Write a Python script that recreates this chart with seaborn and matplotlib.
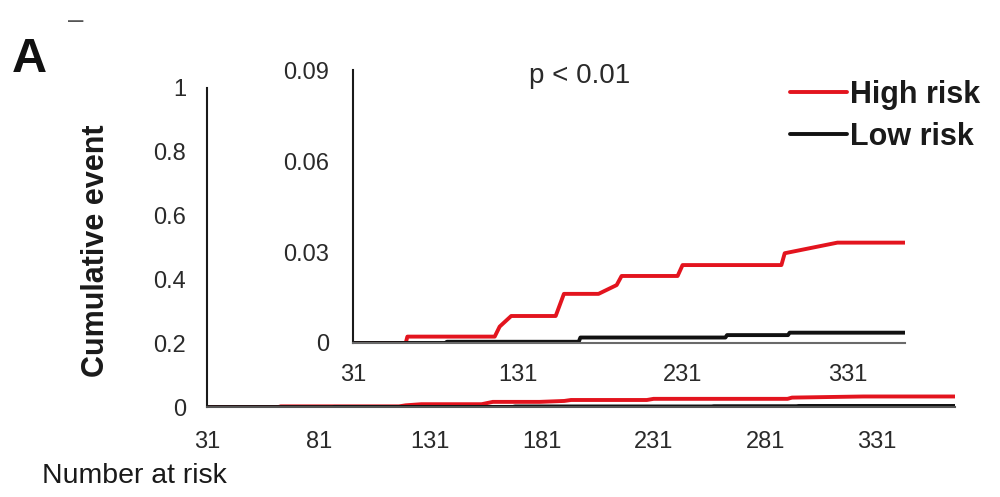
import numpy as np
import pandas as pd
import matplotlib
matplotlib.use("Agg")
import matplotlib.pyplot as plt
import seaborn as sns
from matplotlib.lines import Line2D

# ---- data ----
high_days = [31, 63, 64, 117, 120, 127, 154, 159, 180, 191, 194, 228, 231, 291, 293, 325, 366]
high_vals = [0, 0, 0.0021, 0.0021, 0.0054, 0.0089, 0.0089, 0.0162, 0.0162, 0.0191, 0.0221,
             0.0221, 0.0257, 0.0257, 0.0296, 0.0331, 0.0331]
low_days = [31, 87, 88, 168, 169, 257, 258, 295, 296, 366]
low_vals = [0, 0, 0.0004, 0.0004, 0.0018, 0.0018, 0.0026, 0.0026, 0.0034, 0.0034]
groups = ["High risk", "Low risk"]
group_colors = ["#e3141e", "#111111"]

main_xticks = [31, 81, 131, 181, 231, 281, 331]
main_yticks = [0, 0.2, 0.4, 0.6, 0.8, 1]
main_yticklabels = ["0", "0.2", "0.4", "0.6", "0.8", "1"]
inset_xticks = [31, 131, 231, 331]
inset_yticks = [0, 0.03, 0.06, 0.09]
inset_yticklabels = ["0", "0.03", "0.06", "0.09"]

df = pd.concat([
    pd.DataFrame({"day": high_days, "value": high_vals, "group": groups[0]}),
    pd.DataFrame({"day": low_days, "value": low_vals, "group": groups[1]}),
], ignore_index=True)
palette = dict(zip(groups, group_colors))

sns.set_theme(style="white")
plt.rcParams["font.family"] = ["Liberation Sans", "DejaVu Sans"]

fig = plt.figure(figsize=(10, 4.97), dpi=100)
tick_color = "#2a2a2a"

# ---- main axes ----
ax = fig.add_axes([0.207, 0.181, 0.748, 0.642])
sns.lineplot(data=df, x="day", y="value", hue="group", hue_order=groups, palette=palette,
             estimator=None, sort=False, lw=2.8, ax=ax, legend=False)
ax.set_xlim(31, 366)
ax.set_ylim(0, 1)
ax.set_xticks(main_xticks)
ax.set_xticklabels([str(t) for t in main_xticks])
ax.set_yticks(main_yticks)
ax.set_yticklabels(main_yticklabels)
ax.set_xlabel("")
ax.set_ylabel("")
for s in ["top", "right"]:
    ax.spines[s].set_visible(False)
ax.spines["left"].set_color("#1a1a1a")
ax.spines["left"].set_linewidth(1.5)
ax.spines["bottom"].set_color("#555555")
ax.spines["bottom"].set_linewidth(1.5)
ax.tick_params(axis="both", length=0, labelsize=17, colors=tick_color)
ax.tick_params(axis="y", pad=15)
ax.tick_params(axis="x", pad=17)
ax.patch.set_alpha(0)

# ---- inset axes ----
axi = fig.add_axes([0.353, 0.3099, 0.552, 0.549])
sns.lineplot(data=df, x="day", y="value", hue="group", hue_order=groups, palette=palette,
             estimator=None, sort=False, lw=2.8, ax=axi, legend=False)
axi.set_xlim(31, 366)
axi.set_ylim(0, 0.09)
axi.set_xticks(inset_xticks)
axi.set_xticklabels([str(t) for t in inset_xticks])
axi.set_yticks(inset_yticks)
axi.set_yticklabels(inset_yticklabels)
axi.set_xlabel("")
axi.set_ylabel("")
for s in ["top", "right"]:
    axi.spines[s].set_visible(False)
axi.spines["left"].set_color("#1a1a1a")
axi.spines["left"].set_linewidth(1.5)
axi.spines["bottom"].set_color("#6a6a6a")
axi.spines["bottom"].set_linewidth(1.5)
axi.tick_params(axis="both", length=0, labelsize=17, colors=tick_color)
axi.tick_params(axis="y", pad=17)
axi.tick_params(axis="x", pad=15)
axi.patch.set_alpha(0)

# ---- texts ----
fig.text(0.096, 0.495, "Cumulative event", rotation=90, ha="center", va="center",
         fontsize=22, fontweight="bold", color="#1a1a1a")
fig.text(0.042, 0.028, "Number at risk", ha="left", va="baseline",
         fontsize=20.5, color="#1a1a1a")
fig.text(0.012, 0.855, "A", ha="left", va="baseline", fontsize=35,
         fontweight="bold", color="#111111")
fig.text(0.076, 0.958, "\u2013", ha="center", va="center", fontsize=20, color="#555555")
fig.text(0.580, 0.8325, "p < 0.01", ha="center", va="baseline", fontsize=20, color="#2a2a2a")

handles = [Line2D([], [], color=c, lw=2.8) for c in group_colors]
leg = fig.legend(handles, groups, loc="upper left", bbox_to_anchor=(0.79, 0.84),
                 frameon=False, borderpad=0, borderaxespad=0, handlelength=1.87,
                 handletextpad=0.1, labelspacing=0.4,
                 prop={"size": 22, "weight": "bold"})
for t in leg.get_texts():
    t.set_color("#1a1a1a")

fig.savefig("out.png", dpi=100)
